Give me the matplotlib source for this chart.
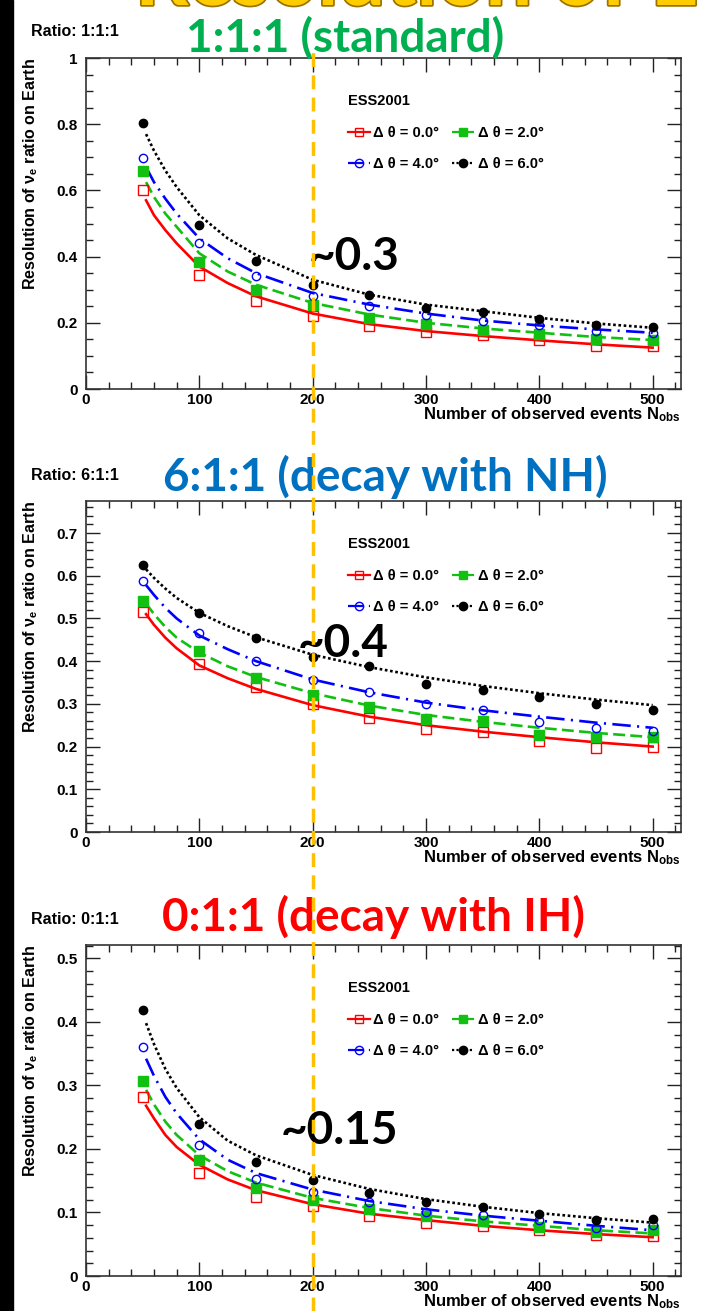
import matplotlib
matplotlib.use('Agg')
import matplotlib.pyplot as plt
import matplotlib.patheffects as pe
from matplotlib.lines import Line2D
from matplotlib.patches import Rectangle
from matplotlib.ticker import MultipleLocator

plt.rcParams['font.family'] = ['Liberation Sans', 'DejaVu Sans']
plt.rcParams['font.weight'] = 'bold'
plt.rcParams['axes.labelweight'] = 'bold'
plt.rcParams['mathtext.fontset'] = 'custom'
plt.rcParams['mathtext.rm'] = 'Liberation Sans:bold'
plt.rcParams['mathtext.it'] = 'Liberation Sans:bold'
plt.rcParams['mathtext.bf'] = 'Liberation Sans:bold'

# number of observed events (points) and x positions of the fitted curves
n_obs = [50, 100, 150, 200, 250, 300, 350, 400, 450, 500]
fit_x = [53, 60, 70, 80, 100, 125, 150, 200, 250, 300, 350, 400, 450, 500]
threshold = 200

labels = ['Δ θ = 0.0°', 'Δ θ = 2.0°', 'Δ θ = 4.0°', 'Δ θ = 6.0°']

# ---- ratio 1:1:1 ----
std_pts = [
    [0.601, 0.345, 0.265, 0.221, 0.191, 0.172, 0.162, 0.148, 0.131, 0.130],
    [0.659, 0.385, 0.298, 0.255, 0.216, 0.196, 0.179, 0.166, 0.152, 0.148],
    [0.697, 0.442, 0.340, 0.282, 0.252, 0.224, 0.204, 0.192, 0.174, 0.169],
    [0.805, 0.494, 0.386, 0.313, 0.285, 0.245, 0.232, 0.211, 0.194, 0.186],
]
std_fit = [
    [0.570, 0.525, 0.480, 0.440, 0.370, 0.320, 0.280, 0.228, 0.196, 0.175, 0.160, 0.147, 0.135, 0.125],
    [0.625, 0.580, 0.530, 0.490, 0.410, 0.355, 0.315, 0.260, 0.225, 0.200, 0.183, 0.170, 0.157, 0.148],
    [0.670, 0.625, 0.575, 0.530, 0.455, 0.395, 0.350, 0.290, 0.255, 0.228, 0.207, 0.192, 0.180, 0.170],
    [0.770, 0.720, 0.660, 0.610, 0.525, 0.455, 0.405, 0.330, 0.285, 0.255, 0.235, 0.215, 0.198, 0.185],
]

# ---- ratio 6:1:1 ----
nh_pts = [
    [0.516, 0.394, 0.339, 0.299, 0.266, 0.240, 0.235, 0.214, 0.196, 0.200],
    [0.541, 0.423, 0.361, 0.321, 0.293, 0.265, 0.260, 0.228, 0.222, 0.223],
    [0.587, 0.467, 0.400, 0.357, 0.328, 0.300, 0.285, 0.258, 0.243, 0.236],
    [0.626, 0.512, 0.454, 0.410, 0.389, 0.347, 0.332, 0.316, 0.300, 0.286],
]
nh_fit = [
    [0.510, 0.485, 0.455, 0.430, 0.390, 0.360, 0.335, 0.297, 0.270, 0.250, 0.235, 0.222, 0.210, 0.200],
    [0.535, 0.510, 0.480, 0.455, 0.420, 0.388, 0.363, 0.325, 0.296, 0.274, 0.258, 0.244, 0.232, 0.222],
    [0.578, 0.555, 0.525, 0.500, 0.460, 0.428, 0.400, 0.357, 0.327, 0.303, 0.285, 0.270, 0.256, 0.244],
    [0.615, 0.595, 0.570, 0.548, 0.513, 0.482, 0.456, 0.415, 0.386, 0.362, 0.342, 0.325, 0.310, 0.297],
]

# ---- ratio 0:1:1 ----
ih_pts = [
    [0.282, 0.162, 0.125, 0.110, 0.094, 0.084, 0.078, 0.072, 0.065, 0.063],
    [0.307, 0.183, 0.139, 0.120, 0.105, 0.095, 0.086, 0.077, 0.069, 0.072],
    [0.360, 0.206, 0.152, 0.132, 0.117, 0.101, 0.096, 0.088, 0.076, 0.080],
    [0.418, 0.239, 0.180, 0.151, 0.131, 0.116, 0.109, 0.098, 0.088, 0.090],
]
ih_fit = [
    [0.268, 0.248, 0.222, 0.203, 0.175, 0.152, 0.135, 0.113, 0.098, 0.088, 0.079, 0.072, 0.066, 0.061],
    [0.293, 0.270, 0.243, 0.222, 0.190, 0.165, 0.147, 0.123, 0.107, 0.095, 0.086, 0.079, 0.072, 0.067],
    [0.342, 0.315, 0.282, 0.256, 0.215, 0.183, 0.162, 0.136, 0.118, 0.105, 0.095, 0.087, 0.079, 0.072],
    [0.398, 0.365, 0.326, 0.296, 0.250, 0.213, 0.190, 0.159, 0.137, 0.121, 0.109, 0.099, 0.091, 0.084],
]

colors = ['#ff0000', '#11c011', '#0000ff', '#000000']
styles = ['-', (0, (4.5, 2)), (0, (7, 2.4, 0.8, 2.4)), (0, (1, 1))]
markers = ['s', 's', 'o', 'o']
filled = [False, True, False, True]

panels = [
    dict(pts=std_pts, fit=std_fit, ymax=1.0, major=0.2, minor=0.05, ratio='Ratio: 1:1:1',
         title='1:1:1 (standard)', tcolor='#00b050', tx=345, ty=38, note='~0.3', nx=196, ny=0.40),
    dict(pts=nh_pts, fit=nh_fit, ymax=0.775, major=0.1, minor=0.02, ratio='Ratio: 6:1:1',
         title='6:1:1 (decay with NH)', tcolor='#0070c0', tx=385, ty=477, note='~0.4', nx=187, ny=0.44),
    dict(pts=ih_pts, fit=ih_fit, ymax=0.521, major=0.1, minor=0.02, ratio='Ratio: 0:1:1',
         title='0:1:1 (decay with IH)', tcolor='#ff0000', tx=373, ty=917, note='~0.15', nx=172, ny=0.229),
]

W, H = 701, 1311
fig = plt.figure(figsize=(W / 100, H / 100), dpi=100)
fig.patches.append(Rectangle((0, 0), 13 / W, 1, transform=fig.transFigure, color='black', zorder=0))

frame_bottoms = [389, 832, 1276]
axes = []
for p, fb in zip(panels, frame_bottoms):
    ax = fig.add_axes([86 / W, 1 - fb / H, 595 / W, 331 / H])
    axes.append(ax)
    for i in range(4):
        ax.plot(fit_x, p['fit'][i], color=colors[i], linestyle=styles[i], lw=1.9, zorder=2)
        ax.plot(n_obs, p['pts'][i], linestyle='none', marker=markers[i], ms=6.5 if markers[i] == 's' else 6,
                mfc=colors[i] if filled[i] else 'none', mec=colors[i], mew=1.0, zorder=3)
    ax.set_xlim(0, 525)
    ax.set_ylim(0, p['ymax'])
    ax.xaxis.set_major_locator(MultipleLocator(100))
    ax.xaxis.set_minor_locator(MultipleLocator(20))
    ax.yaxis.set_major_locator(MultipleLocator(p['major']))
    ax.yaxis.set_minor_locator(MultipleLocator(p['minor']))
    ax.tick_params(which='both', direction='in', top=True, right=True, width=1.0, color='#222222')
    ax.tick_params(which='major', length=10, labelsize=11)
    ax.tick_params(which='minor', length=5)
    ax.tick_params(axis='x', pad=3)
    ax.tick_params(axis='y', pad=6)
    for s in ax.spines.values():
        s.set_linewidth(1.2)
        s.set_color('#333333')
    ax.yaxis.set_major_formatter(plt.FuncFormatter(lambda v, _: '%g' % round(v, 3)))
    ax.set_xlabel('Number of observed events N$_{obs}$', fontsize=12, loc='right')
    ax.xaxis.set_label_coords(1.0, -0.05)
    ax.set_ylabel('Resolution of ν$_{e}$ ratio on Earth', fontsize=11.5, loc='top')
    ax.yaxis.set_label_coords(-0.078, 1.0)

    handles = [Line2D([], [], color=colors[i], linestyle=styles[i], lw=1.6, marker=markers[i], ms=6,
                      mfc=colors[i] if filled[i] else 'none', mec=colors[i]) for i in range(4)]
    order = [0, 2, 1, 3]
    leg = ax.legend([handles[k] for k in order], [labels[k] for k in order], ncol=2, frameon=False,
                    loc='upper left', bbox_to_anchor=(0.44, 0.89), fontsize=10.5,
                    handlelength=1.5, handletextpad=0.25, columnspacing=0.9, labelspacing=1.2,
                    borderpad=0, borderaxespad=0, title='ESS2001', alignment='left',
                    title_fontproperties={'weight': 'bold', 'size': 10.5})

    ax.text(p['nx'], p['ny'], p['note'], fontsize=33, fontweight='bold', family=['Lato', 'DejaVu Sans'],
            ha='left', va='center', zorder=5)
    fig.text(31 / W, 1 - (fb - 357) / H, p['ratio'], fontsize=11.5, fontweight='bold', va='center', ha='left')
    fig.text(p['tx'] / W, 1 - p['ty'] / H, p['title'], fontsize=33, fontweight='bold',
             family=['Lato', 'DejaVu Sans'], color=p['tcolor'], ha='center', va='center')

# vertical reference line at N_obs = 200 across the whole page
x_fig = fig.transFigure.inverted().transform(axes[0].transData.transform((threshold, 0)))[0]
fig.add_artist(Line2D([x_fig, x_fig], [0, 1 - 45 / H], transform=fig.transFigure, color='#ffc000',
                      lw=2.5, linestyle=(0, (4, 2.4)), zorder=10))

# slide title, mostly cut off at the top edge
fig.text(135 / W, 1 - 5 / H, 'Resolution of E', fontsize=60, fontweight='bold', color='#ffcc00',
         family=['Lato', 'DejaVu Sans'], va='baseline', ha='left',
         path_effects=[pe.withStroke(linewidth=2.5, foreground='#9a7000')])

fig.savefig('out.png', dpi=100)
